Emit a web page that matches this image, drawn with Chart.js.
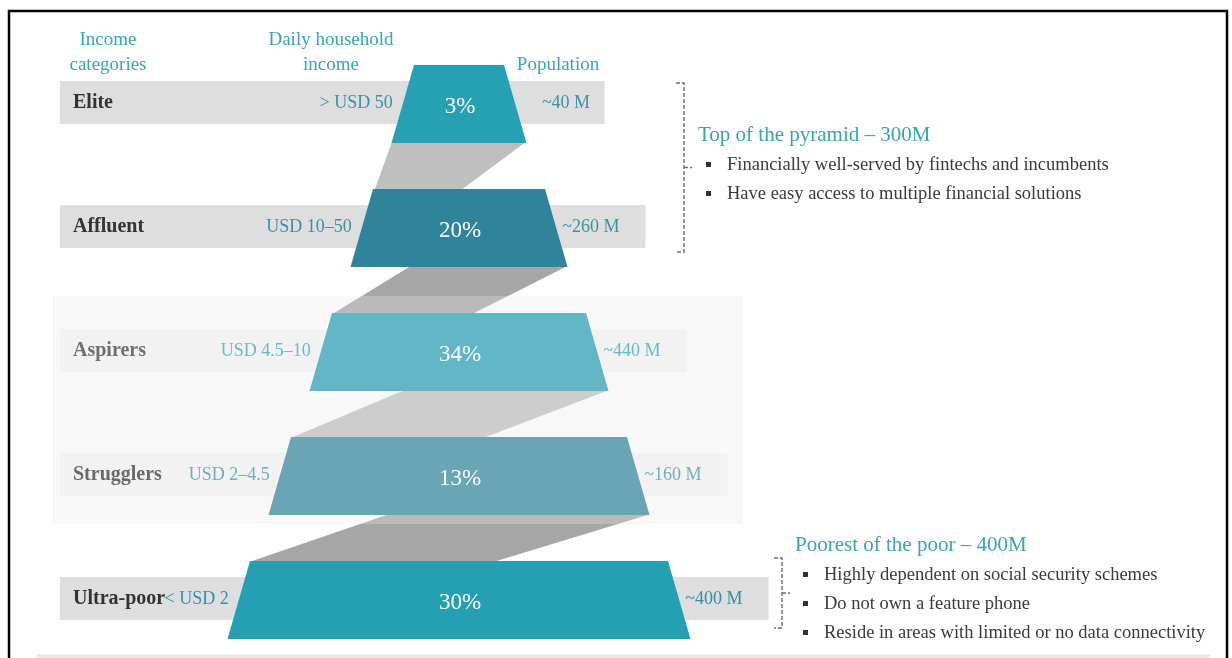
<!DOCTYPE html>
<html>
<head>
<meta charset="utf-8">
<script src="https://cdn.jsdelivr.net/npm/chart.js@4.4.1/dist/chart.umd.min.js"></script>
<style>
    html, body { margin: 0; padding: 0; background: #ffffff; overflow: hidden; }
    canvas { display: block; }
</style>
</head>
<body>
<canvas id="pyramidChart" width="1232" height="658"></canvas>
<script>
// --- data ---
const tiers = ['Elite', 'Affluent', 'Aspirers', 'Strugglers', 'Ultra-poor'];
const shares = [3, 20, 34, 13, 30];
const incomeRanges = ['> USD 50', 'USD 10–50', 'USD 4.5–10', 'USD 2–4.5', '< USD 2'];
const populations = ['~40 M', '~260 M', '~440 M', '~160 M', '~400 M'];

const headerIncome = ['Income', 'categories'];
const headerDaily = ['Daily household', 'income'];
const headerPopulation = ['Population'];

const topTitle = 'Top of the pyramid – 300M';
const topBullets = [
    'Financially well-served by fintechs and incumbents',
    'Have easy access to multiple financial solutions'
];
const bottomTitle = 'Poorest of the poor – 400M';
const bottomBullets = [
    'Highly dependent on social security schemes',
    'Do not own a feature phone',
    'Reside in areas with limited or no data connectivity'
];

// --- styles ---
const tierFill = ['#26a0b3', '#2f849b', '#62b6c5', '#69a5b5', '#25a0b3'];
const tierLabelColor = ['#333333', '#333333', '#6f6f6f', '#6a6a6a', '#333333'];
const incomeColor = ['#3d91a7', '#3d8fa6', '#68bbca', '#6aaebf', '#2f94aa'];
const popColor = ['#3d91a7', '#3d8fa6', '#6ab7c7', '#76adbc', '#2f90a8'];
const bandColor = ['#dedede', '#dedede', '#f2f2f2', '#f2f2f2', '#dedede'];
const connectorColor = ['#bfbfbf', '#a6a6a6', '#bfbfbf', '#a6a6a6'];
const TEAL = '#35a5b8';
const TEXT = '#3a3a3a';
const SERIF = '"Liberation Serif", "DejaVu Serif", serif';

/**
 * Draws the stylised pyramid: bands, ribbons, trapezoids and labels
 */
const pyramidPlugin = {
    id: 'pyramid',
    beforeDatasetsDraw(chart) {
        const { ctx } = chart;
        const xs = chart.scales.x;
        const ys = chart.scales.y;
        const px = v => xs.getPixelForValue(v);
        const py = v => ys.getPixelForValue(v);
        const step = py(1) - py(0);
        const cx = px(459);

        // pyramid widths grow with tier index
        const topW = i => px(90 + 82 * i) - px(0);
        const botW = i => topW(i) + px(45) - px(0);
        const half = step * 0.315;

        // light panel behind the middle tiers
        const panelTop = py(1.548), panelBot = py(3.387);
        ctx.save();
        ctx.fillStyle = '#f9f9f9';
        ctx.fillRect(px(52), panelTop, px(743) - px(52), panelBot - panelTop);

        // grey ribbons joining the tiers
        const ft = [0, 0.27, 0.31, 0.31];
        const fb = [0.52, 0.56, 0.58, 0.59];
        for (let i = 0; i < tiers.length - 1; i++) {
            const y1 = py(i) + half;
            const y2 = py(i + 1) - half;
            const l1 = cx - botW(i) / 2, r1 = cx + botW(i) / 2;
            const l2 = cx - topW(i + 1) / 2;
            ctx.beginPath();
            ctx.moveTo(l1 + ft[i] * (r1 - l1), y1);
            ctx.lineTo(r1 - 2, y1);
            ctx.lineTo(l2 + fb[i] * topW(i + 1), y2);
            ctx.lineTo(l2 + 2, y2);
            ctx.closePath();
            ctx.fillStyle = connectorColor[i];
            ctx.fill();
        }
        // panel veil lightens the ribbons inside it
        ctx.fillStyle = 'rgba(249,249,249,0.25)';
        ctx.fillRect(px(52), panelTop, px(743) - px(52), panelBot - panelTop);

        // bands
        tiers.forEach((t, i) => {
            const yc = py(i) - 1.5;
            const bh = step * 0.173;
            const right = cx + botW(i) / 2 + px(78) - px(0);
            ctx.fillStyle = bandColor[i];
            ctx.fillRect(px(60), yc - bh, right - px(60), bh * 2);
        });

        // trapezoids
        tiers.forEach((t, i) => {
            const yc = py(i);
            ctx.beginPath();
            ctx.moveTo(cx - topW(i) / 2, yc - half);
            ctx.lineTo(cx + topW(i) / 2, yc - half);
            ctx.lineTo(cx + botW(i) / 2, yc + half);
            ctx.lineTo(cx - botW(i) / 2, yc + half);
            ctx.closePath();
            ctx.fillStyle = tierFill[i];
            ctx.fill();
        });

        // labels
        ctx.textBaseline = 'middle';
        const popCenter = px(558);
        tiers.forEach((t, i) => {
            const yc = py(i);
            const midW = (topW(i) + botW(i)) / 2;

            ctx.font = `bold 20px ${SERIF}`;
            ctx.fillStyle = tierLabelColor[i];
            ctx.textAlign = 'left';
            ctx.fillText(t, px(73), yc - 1);

            ctx.font = `18px ${SERIF}`;
            ctx.fillStyle = incomeColor[i];
            ctx.textAlign = 'right';
            ctx.fillText(incomeRanges[i], cx - midW / 2 - 10, yc - 1);

            ctx.textAlign = 'left';
            ctx.fillStyle = popColor[i];
            const w = ctx.measureText(populations[i]).width;
            const left = Math.max(cx + midW / 2 + 6, popCenter - w / 2 + 8);
            ctx.fillText(populations[i], left, yc - 1);

            ctx.font = `23px ${SERIF}`;
            ctx.fillStyle = '#ffffff';
            ctx.textAlign = 'center';
            ctx.fillText(shares[i] + '%', cx + 1, yc + 3);
        });

        // column headers
        ctx.font = `19px ${SERIF}`;
        ctx.fillStyle = TEAL;
        ctx.textAlign = 'center';
        const hy = [py(0) - 64, py(0) - 39];
        headerIncome.forEach((s, k) => ctx.fillText(s, px(108), hy[k]));
        headerDaily.forEach((s, k) => ctx.fillText(s, px(331), hy[k]));
        headerPopulation.forEach(s => ctx.fillText(s, popCenter, hy[1]));

        ctx.restore();
    },
    afterDraw(chart) {
        const { ctx } = chart;
        const xs = chart.scales.x;
        const ys = chart.scales.y;
        const px = v => xs.getPixelForValue(v);
        const py = v => ys.getPixelForValue(v);

        const bracket = (x, y0, y1) => {
            ctx.save();
            ctx.strokeStyle = '#6e6e6e';
            ctx.lineWidth = 1.4;
            ctx.setLineDash([4, 2]);
            ctx.beginPath();
            ctx.moveTo(x - 8, y0);
            ctx.lineTo(x, y0);
            ctx.lineTo(x, y1);
            ctx.lineTo(x - 8, y1);
            ctx.moveTo(x, (y0 + y1) / 2);
            ctx.lineTo(x + 8, (y0 + y1) / 2);
            ctx.stroke();
            ctx.restore();
        };

        const note = (x, titleY, title, bullets) => {
            ctx.save();
            ctx.textBaseline = 'middle';
            ctx.textAlign = 'left';
            ctx.font = `21px ${SERIF}`;
            ctx.fillStyle = TEAL;
            ctx.fillText(title, x, titleY);
            ctx.font = `18.5px ${SERIF}`;
            bullets.forEach((b, k) => {
                const y = titleY + 30 + k * 29;
                ctx.fillStyle = '#333333';
                ctx.fillRect(x + 8, y - 3, 5, 5);
                ctx.fillStyle = TEXT;
                ctx.fillText(b, x + 29, y);
            });
            ctx.restore();
        };

        // top of the pyramid
        bracket(px(684), py(0) - 21, py(1) + 24);
        note(px(698), py(0) + 31, topTitle, topBullets);

        // poorest of the poor
        bracket(px(782), py(4) - 42, py(4) + 28);
        note(px(795), py(4) - 55, bottomTitle, bottomBullets);

        // frame
        ctx.save();
        ctx.strokeStyle = '#000000';
        ctx.lineWidth = 2.5;
        ctx.beginPath();
        ctx.moveTo(px(9), 700);
        ctx.lineTo(px(9), 11);
        ctx.lineTo(px(1227), 11);
        ctx.lineTo(px(1227), 700);
        ctx.stroke();
        ctx.strokeStyle = '#e6e6e6';
        ctx.lineWidth = 3;
        ctx.beginPath();
        ctx.moveTo(px(37), 656);
        ctx.lineTo(px(1210), 656);
        ctx.stroke();
        ctx.restore();
    }
};

const ctx = document.getElementById('pyramidChart').getContext('2d');
new Chart(ctx, {
    type: 'bar',
    data: {
        labels: tiers,
        datasets: [{
            label: 'Share of households (%)',
            data: shares,
            backgroundColor: 'rgba(0,0,0,0)',
            borderWidth: 0
        }]
    },
    options: {
        indexAxis: 'y',
        responsive: false,
        animation: false,
        devicePixelRatio: 1,
        layout: { padding: { top: 104, bottom: 58, left: 0, right: 0 } },
        plugins: {
            legend: { display: false },
            tooltip: { enabled: false },
            title: { display: false }
        },
        scales: {
            x: { type: 'linear', min: 0, max: 1232, display: false },
            y: { type: 'category', offset: false, display: false }
        }
    },
    plugins: [pyramidPlugin]
});
</script>
</body>
</html>
